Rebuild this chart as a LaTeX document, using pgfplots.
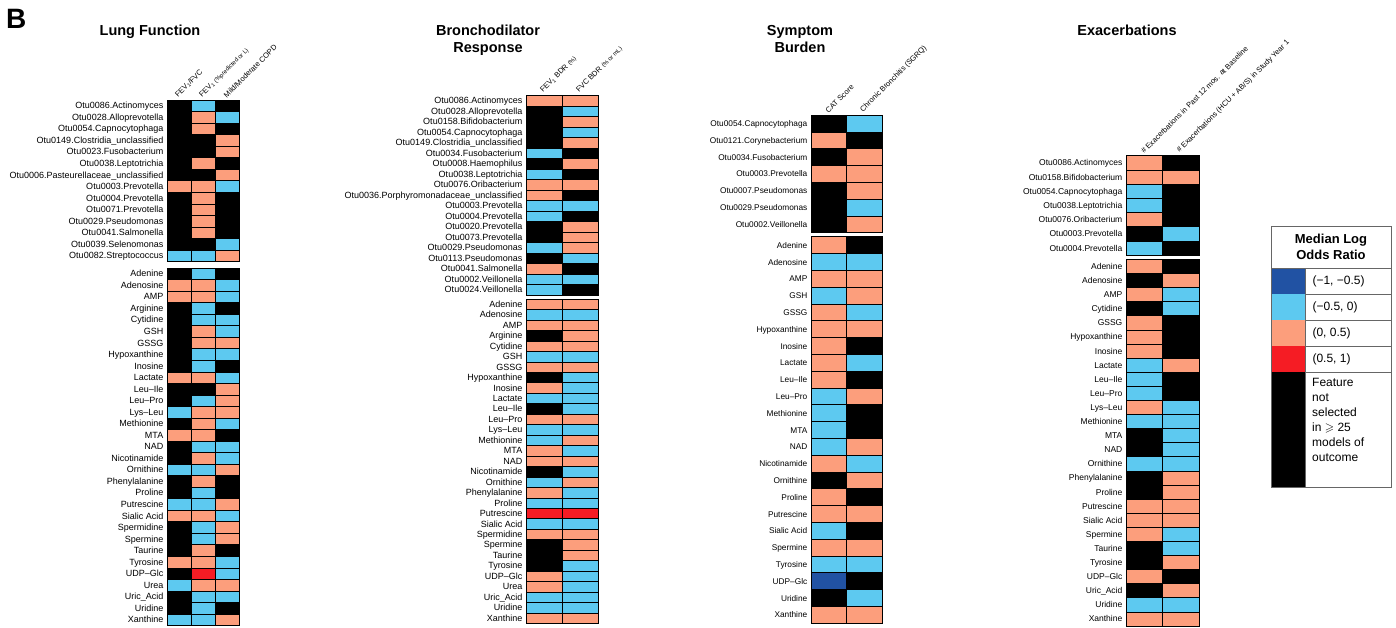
\documentclass[border=0pt]{standalone}
\usepackage{fontspec}
\setmainfont{Liberation Sans}
\usepackage{amssymb}
\usepackage{pgfplots}
\usepackage{pgfplotstable}
\pgfplotsset{compat=1.18}

% Class codes of the median log odds ratio:
% 0 = feature not selected, 1 = (-1,-0.5), 2 = (-0.5,0), 3 = (0,0.5), 4 = (0.5,1)
\definecolor{lorA}{RGB}{33,82,163}
\definecolor{lorB}{RGB}{93,201,240}
\definecolor{lorC}{RGB}{252,158,124}
\definecolor{lorD}{RGB}{245,28,36}

% ---------------- Lung Function ----------------
\pgfplotstableread[col sep=comma]{
feature,a,b,c
Otu0086.Actinomyces,0,2,0
Otu0028.Alloprevotella,0,3,2
Otu0054.Capnocytophaga,0,3,0
Otu0149.Clostridia\_unclassified,0,0,3
Otu0023.Fusobacterium,0,0,3
Otu0038.Leptotrichia,0,3,0
Otu0006.Pasteurellaceae\_unclassified,0,0,3
Otu0003.Prevotella,3,3,2
Otu0004.Prevotella,0,3,0
Otu0071.Prevotella,0,3,0
Otu0029.Pseudomonas,0,3,0
Otu0041.Salmonella,0,3,0
Otu0039.Selenomonas,0,0,2
Otu0082.Streptococcus,2,2,3
}\lfOtu
\pgfplotstableread[col sep=comma]{
feature,a,b,c
Adenine,0,2,0
Adenosine,3,3,2
AMP,3,3,2
Arginine,0,2,0
Cytidine,0,2,2
GSH,0,3,2
GSSG,0,3,3
Hypoxanthine,0,2,2
Inosine,0,2,0
Lactate,3,3,2
Leu–Ile,0,0,3
Leu–Pro,0,2,3
Lys–Leu,2,3,3
Methionine,0,3,2
MTA,3,3,0
NAD,0,2,2
Nicotinamide,0,3,2
Ornithine,2,2,3
Phenylalanine,0,3,0
Proline,0,2,0
Putrescine,2,2,3
Sialic Acid,3,3,2
Spermidine,0,2,3
Spermine,0,2,3
Taurine,0,3,0
Tyrosine,3,3,2
UDP–Glc,0,4,2
Urea,2,3,3
Uric\_Acid,0,2,2
Uridine,0,2,0
Xanthine,2,2,3
}\lfMet

% ---------------- Bronchodilator Response ----------------
\pgfplotstableread[col sep=comma]{
feature,a,b
Otu0086.Actinomyces,3,3
Otu0028.Alloprevotella,0,2
Otu0158.Bifidobacterium,0,3
Otu0054.Capnocytophaga,0,2
Otu0149.Clostridia\_unclassified,0,3
Otu0034.Fusobacterium,2,0
Otu0008.Haemophilus,0,3
Otu0038.Leptotrichia,2,0
Otu0076.Oribacterium,3,3
Otu0036.Porphyromonadaceae\_unclassified,3,0
Otu0003.Prevotella,2,2
Otu0004.Prevotella,2,0
Otu0020.Prevotella,0,3
Otu0073.Prevotella,0,3
Otu0029.Pseudomonas,2,3
Otu0113.Pseudomonas,0,2
Otu0041.Salmonella,3,0
Otu0002.Veillonella,2,2
Otu0024.Veillonella,2,0
}\bdOtu
\pgfplotstableread[col sep=comma]{
feature,a,b
Adenine,3,3
Adenosine,2,2
AMP,3,3
Arginine,0,3
Cytidine,3,3
GSH,2,2
GSSG,3,3
Hypoxanthine,0,2
Inosine,3,2
Lactate,2,2
Leu–Ile,0,2
Leu–Pro,3,3
Lys–Leu,2,2
Methionine,2,3
MTA,3,2
NAD,3,3
Nicotinamide,0,2
Ornithine,2,3
Phenylalanine,3,2
Proline,2,2
Putrescine,4,4
Sialic Acid,2,2
Spermidine,3,3
Spermine,0,3
Taurine,0,3
Tyrosine,0,2
UDP–Glc,3,2
Urea,3,2
Uric\_Acid,2,2
Uridine,2,2
Xanthine,3,3
}\bdMet

% ---------------- Symptom Burden ----------------
\pgfplotstableread[col sep=comma]{
feature,a,b
Otu0054.Capnocytophaga,0,2
Otu0121.Corynebacterium,3,0
Otu0034.Fusobacterium,0,3
Otu0003.Prevotella,3,3
Otu0007.Pseudomonas,0,3
Otu0029.Pseudomonas,0,2
Otu0002.Veillonella,0,3
}\sbOtu
\pgfplotstableread[col sep=comma]{
feature,a,b
Adenine,3,0
Adenosine,2,2
AMP,3,3
GSH,2,3
GSSG,3,2
Hypoxanthine,3,3
Inosine,3,0
Lactate,3,2
Leu–Ile,3,0
Leu–Pro,2,3
Methionine,2,0
MTA,2,0
NAD,2,3
Nicotinamide,3,2
Ornithine,0,3
Proline,3,0
Putrescine,3,3
Sialic Acid,2,0
Spermine,3,3
Tyrosine,2,2
UDP–Glc,1,0
Uridine,0,2
Xanthine,3,3
}\sbMet

% ---------------- Exacerbations ----------------
\pgfplotstableread[col sep=comma]{
feature,a,b
Otu0086.Actinomyces,3,0
Otu0158.Bifidobacterium,3,3
Otu0054.Capnocytophaga,2,0
Otu0038.Leptotrichia,2,0
Otu0076.Oribacterium,3,0
Otu0003.Prevotella,0,2
Otu0004.Prevotella,2,0
}\exOtu
\pgfplotstableread[col sep=comma]{
feature,a,b
Adenine,3,0
Adenosine,0,3
AMP,3,2
Cytidine,0,2
GSSG,3,0
Hypoxanthine,3,0
Inosine,3,0
Lactate,2,3
Leu–Ile,2,0
Leu–Pro,2,0
Lys–Leu,3,2
Methionine,2,2
MTA,0,2
NAD,0,2
Ornithine,2,2
Phenylalanine,0,3
Proline,0,3
Putrescine,3,3
Sialic Acid,3,3
Spermine,3,2
Taurine,0,2
Tyrosine,0,3
UDP–Glc,3,0
Uric\_Acid,0,3
Uridine,2,2
Xanthine,3,3
}\exMet

% one heat-map cell, sized to one unit of the current axis
\newdimen\cellw
\newdimen\cellh
\pgfdeclareplotmark{cell}{%
  \pgfpathrectangle{\pgfpoint{-0.5\cellw}{-0.5\cellh}}{\pgfpoint{\cellw}{\cellh}}%
  \pgfusepathqfillstroke}

\newcommand\rowA{\fontsize{9}{10}\selectfont}
\newcommand\rowC{\fontsize{8.3}{10}\selectfont}
\newcommand\rowD{\fontsize{8.5}{10}\selectfont}
\newcommand\hdfont{\fontsize{7.5}{9}\selectfont}
\newcommand\hdsmall{\fontsize{6}{7}\selectfont}
\newcommand\ttlfont{\fontsize{14.5}{17}\selectfont\bfseries}

\pgfplotsset{
  lor/.style={
    colormap={lor}{rgb255=(0,0,0) rgb255=(33,82,163) rgb255=(93,201,240)
                   rgb255=(252,158,124) rgb255=(245,28,36)},
    point meta min=0, point meta max=4},
  block/.style={scale only axis, anchor=north west, lor,
    xmin=-0.5, ymin=-0.5, y dir=reverse, enlargelimits=false,
    axis line style={line width=0.8pt},
    major tick length=0pt, ytick=data,
    yticklabel style={anchor=east, inner sep=0pt, xshift=-3.5pt,
      text height=6.2pt, text depth=0pt},
    xticklabel style={rotate=45, anchor=south west, inner sep=1pt, font=\hdfont},
    xticklabel pos=right, xtick=\empty},
  cell/.style={scatter, only marks, mark=cell, point meta=explicit,
    scatter/use mapped color={draw=black, fill=mapped color},
    line width=0.5pt},
}

\begin{document}
\begin{tikzpicture}
\path[use as bounding box] (0pt,0pt) rectangle (1396pt,-627pt);

\node[anchor=base west, inner sep=0pt, font=\fontsize{28}{30}\selectfont\bfseries]
  at (6pt,-28pt) {B};

% ===== Lung Function =====
\node[anchor=base, font=\ttlfont] at (150pt,-35pt) {Lung Function};
\cellw=24pt \cellh=11.53pt
\begin{axis}[block, at={(167pt,-100pt)}, width=72pt, height=161.42pt,
  xmax=2.5, ymax=13.5, xtick={0,1,2},
  xticklabels={FEV\textsubscript{1}/FVC,
    {FEV\textsubscript{1} {\hdsmall(\%predicted or L)}},
    Mild/Moderate COPD},
  yticklabels from table={\lfOtu}{feature}, yticklabel style={font=\rowA}]
\addplot[cell] table[x expr=0, y expr=\coordindex, meta=a] {\lfOtu};
\addplot[cell] table[x expr=1, y expr=\coordindex, meta=b] {\lfOtu};
\addplot[cell] table[x expr=2, y expr=\coordindex, meta=c] {\lfOtu};
\end{axis}
\begin{axis}[block, at={(167pt,-268pt)}, width=72pt, height=357.43pt,
  xmax=2.5, ymax=30.5,
  yticklabels from table={\lfMet}{feature}, yticklabel style={font=\rowA}]
\addplot[cell] table[x expr=0, y expr=\coordindex, meta=a] {\lfMet};
\addplot[cell] table[x expr=1, y expr=\coordindex, meta=b] {\lfMet};
\addplot[cell] table[x expr=2, y expr=\coordindex, meta=c] {\lfMet};
\end{axis}

% ===== Bronchodilator Response =====
\node[anchor=base, font=\ttlfont] at (488pt,-35pt) {Bronchodilator};
\node[anchor=base, font=\ttlfont] at (488pt,-52pt) {Response};
\cellw=36pt \cellh=10.5pt
\begin{axis}[block, at={(526pt,-95.3pt)}, width=72pt, height=199.5pt,
  xmax=1.5, ymax=18.5, xtick={0,1},
  xticklabels={{FEV\textsubscript{1} BDR {\hdsmall(\%)}},
    {FVC BDR {\hdsmall(\% or mL)}}},
  yticklabels from table={\bdOtu}{feature}, yticklabel style={font=\rowA}]
\addplot[cell] table[x expr=0, y expr=\coordindex, meta=a] {\bdOtu};
\addplot[cell] table[x expr=1, y expr=\coordindex, meta=b] {\bdOtu};
\end{axis}
\cellw=36pt \cellh=10.46pt
\begin{axis}[block, at={(526pt,-299pt)}, width=72pt, height=324.26pt,
  xmax=1.5, ymax=30.5,
  yticklabels from table={\bdMet}{feature}, yticklabel style={font=\rowA}]
\addplot[cell] table[x expr=0, y expr=\coordindex, meta=a] {\bdMet};
\addplot[cell] table[x expr=1, y expr=\coordindex, meta=b] {\bdMet};
\end{axis}

% ===== Symptom Burden =====
\node[anchor=base, font=\ttlfont] at (800pt,-35pt) {Symptom};
\node[anchor=base, font=\ttlfont] at (800pt,-52pt) {Burden};
\cellw=35.5pt \cellh=16.8pt
\begin{axis}[block, at={(811pt,-115pt)}, width=71pt, height=117.6pt,
  xmax=1.5, ymax=6.5, xtick={0,1},
  xticklabels={CAT Score, Chronic Bronchitis (SGRQ)},
  yticklabels from table={\sbOtu}{feature}, yticklabel style={font=\rowC}]
\addplot[cell] table[x expr=0, y expr=\coordindex, meta=a] {\sbOtu};
\addplot[cell] table[x expr=1, y expr=\coordindex, meta=b] {\sbOtu};
\end{axis}
\begin{axis}[block, at={(811pt,-236.7pt)}, width=71pt, height=386.4pt,
  xmax=1.5, ymax=22.5,
  yticklabels from table={\sbMet}{feature}, yticklabel style={font=\rowC}]
\addplot[cell] table[x expr=0, y expr=\coordindex, meta=a] {\sbMet};
\addplot[cell] table[x expr=1, y expr=\coordindex, meta=b] {\sbMet};
\end{axis}

% ===== Exacerbations =====
\node[anchor=base, font=\ttlfont] at (1127pt,-35pt) {Exacerbations};
\cellw=36.5pt \cellh=14.2pt
\begin{axis}[block, at={(1126pt,-155.7pt)}, width=73pt, height=99.4pt,
  xmax=1.5, ymax=6.5, xtick={0,1},
  xticklabels={\# Exacerbations in Past 12 mos. at Baseline,
    \# Exacerbations (HCU + AB/S) in Study Year 1},
  yticklabels from table={\exOtu}{feature}, yticklabel style={font=\rowD}]
\addplot[cell] table[x expr=0, y expr=\coordindex, meta=a] {\exOtu};
\addplot[cell] table[x expr=1, y expr=\coordindex, meta=b] {\exOtu};
\end{axis}
\cellw=36.5pt \cellh=14.1pt
\begin{axis}[block, at={(1126pt,-259.3pt)}, width=73pt, height=366.6pt,
  xmax=1.5, ymax=25.5,
  yticklabels from table={\exMet}{feature}, yticklabel style={font=\rowD}]
\addplot[cell] table[x expr=0, y expr=\coordindex, meta=a] {\exMet};
\addplot[cell] table[x expr=1, y expr=\coordindex, meta=b] {\exMet};
\end{axis}

% ===== colour key =====
\begin{scope}[font=\fontsize{12}{15}\selectfont]
\fill[lorA] (1271pt,-268pt) rectangle (1305pt,-294pt);
\fill[lorB] (1271pt,-294pt) rectangle (1305pt,-320pt);
\fill[lorC] (1271pt,-320pt) rectangle (1305pt,-346pt);
\fill[lorD] (1271pt,-346pt) rectangle (1305pt,-372pt);
\fill[black] (1271pt,-372pt) rectangle (1305pt,-487pt);
\draw[black!60, line width=0.6pt]
  (1271pt,-268pt) -- (1391pt,-268pt)
  (1305pt,-294pt) -- (1391pt,-294pt)
  (1305pt,-320pt) -- (1391pt,-320pt)
  (1305pt,-346pt) -- (1391pt,-346pt)
  (1305pt,-372pt) -- (1391pt,-372pt)
  (1305pt,-268pt) -- (1305pt,-487pt);
\draw[black!60, line width=0.8pt] (1271pt,-226pt) rectangle (1391pt,-487pt);
\node[align=center, font=\fontsize{13}{15.5}\selectfont\bfseries]
  at (1331pt,-247pt) {Median Log\\Odds Ratio};
\node[anchor=west] at (1309pt,-281pt) {(−1, −0.5)};
\node[anchor=west] at (1309pt,-307pt) {(−0.5, 0)};
\node[anchor=west] at (1309pt,-333pt) {(0, 0.5)};
\node[anchor=west] at (1309pt,-359pt) {(0.5, 1)};
\node[anchor=north west, align=left, inner sep=0pt] at (1312pt,-378pt)
  {Feature\\not\\selected\\in $\geqslant$ 25\\models of\\outcome};
\end{scope}
\end{tikzpicture}
\end{document}
